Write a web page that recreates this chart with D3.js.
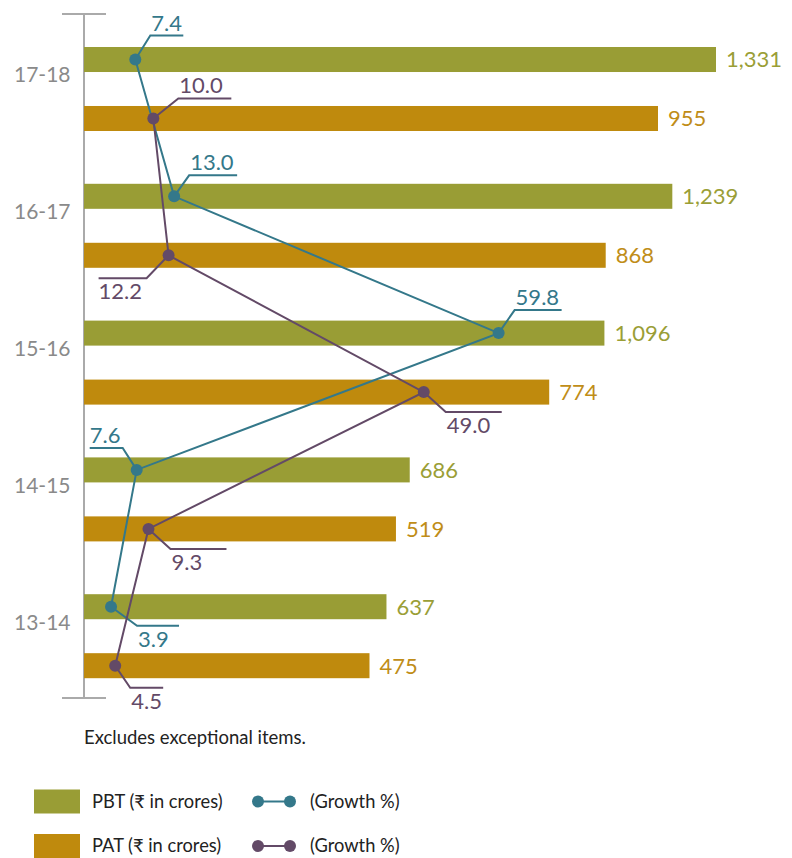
<!DOCTYPE html>
<html><head><meta charset="utf-8">
<script src="https://cdn.jsdelivr.net/npm/d3@7"></script>
<style>body{margin:0;background:#fff}svg{display:block;font-family:Lato,"Open Sans",sans-serif}</style>
</head><body><svg id="c" width="792" height="858"></svg>
<script>
const categories = ["17-18","16-17","15-16","14-15","13-14"];
const pbt = [1331, 1239, 1096, 686, 637];
const pat = [955, 868, 774, 519, 475];
const pbtGrowth = [7.4, 13.0, 59.8, 7.6, 3.9];
const patGrowth = [10.0, 12.2, 49.0, 9.3, 4.5];
const pbtLabels = ["1,331","1,239","1,096","686","637"];
const patLabels = ["955","868","774","519","475"];
const growthLabels = {pbt:["7.4","13.0","59.8","7.6","3.9"], pat:["10.0","12.2","49.0","9.3","4.5"]};

// callout layout: [elbow dx, elbow dy, horizontal length (signed), text above?]
const pbtCallout = [[15,-24,33,true],[15,-21,48,true],[16,-23,47,true],[-14,-22,-33,true],[26,19,42,false]];
const patCallout = [[25,-20,53,true],[-22,23,-48,false],[22,20,56,false],[22,20,56,false],[15,22,33,false]];

const C = {pbt:"#999d35", pat:"#bf8a0d", pbtTxt:"#9a9e36", patTxt:"#c08d18", teal:"#34788a", purple:"#634a67", axis:"#aaaaaa"};

const svg = d3.select("#c");
const x0 = 84;
const y = d3.scaleBand().domain(categories).range([14, 698]).padding(0);
const inner = d3.scaleBand().domain(["PBT","PAT"]).range([33, 117]).paddingInner(0.576).paddingOuter(0);
const xPBT = d3.scaleLinear().domain([0, 1331]).range([x0, 716]);
const xPAT = d3.scaleLinear().domain([0, 955]).range([x0, 658]);
const xG = d3.scaleLinear().domain([0, 60]).range([x0, 500]);

// axis
const axisG = svg.append("g");
axisG.append("line").attr("x1",x0).attr("x2",x0).attr("y1",14).attr("y2",698).attr("stroke",C.axis).attr("stroke-width",2);
[14,698].forEach(v=>axisG.append("line").attr("x1",62).attr("x2",106).attr("y1",v).attr("y2",v).attr("stroke",C.axis).attr("stroke-width",2));

// category labels
svg.append("g").selectAll("text").data(categories).join("text")
  .attr("x", 14).attr("y", d => y(d) + 61).attr("dy","0.35em")
  .attr("font-size", 21).attr("fill", "#8a8a8a").text(d => d);

// bars
const bh = inner.bandwidth();
svg.append("g").selectAll("rect").data(pbt).join("rect")
  .attr("x", x0).attr("y", (d,i) => y(categories[i]) + inner("PBT"))
  .attr("width", d => xPBT(d) - x0).attr("height", bh).attr("fill", C.pbt);
svg.append("g").selectAll("rect").data(pat).join("rect")
  .attr("x", x0).attr("y", (d,i) => y(categories[i]) + inner("PAT"))
  .attr("width", d => xPAT(d) - x0).attr("height", bh).attr("fill", C.pat);

// value labels
svg.append("g").selectAll("text").data(pbt).join("text")
  .attr("x", d => xPBT(d) + 10).attr("y", (d,i) => y(categories[i]) + inner("PBT") + bh/2).attr("dy","0.36em")
  .attr("font-size", 22).attr("fill", C.pbtTxt).text((d,i) => pbtLabels[i]);
svg.append("g").selectAll("text").data(pat).join("text")
  .attr("x", d => xPAT(d) + 10).attr("y", (d,i) => y(categories[i]) + inner("PAT") + bh/2).attr("dy","0.36em")
  .attr("font-size", 22).attr("fill", C.patTxt).text((d,i) => patLabels[i]);

// growth lines
function growth(vals, key, color, callout, labels){
  const pts = vals.map((g,i) => [xG(g), y(categories[i]) + inner(key) + bh/2]);
  const g = svg.append("g");
  g.append("path").attr("d", d3.line()(pts)).attr("fill","none").attr("stroke",color).attr("stroke-width",2);
  pts.forEach((p,i) => {
    const [dx,dy,len,above] = callout[i];
    const ex = p[0]+dx, ey = p[1]+dy;
    g.append("path").attr("d", d3.line()([p,[ex,ey],[ex+len,ey]])).attr("fill","none").attr("stroke",color).attr("stroke-width",2);
    const tx = len > 0 ? ex : ex + len;
    g.append("text").attr("x", tx + (len>0?1:0)).attr("y", above ? ey - 5 : ey + 21)
      .attr("font-size", 22).attr("fill", color).text(labels[i]);
  });
  g.selectAll("circle").data(pts).join("circle").attr("cx", d=>d[0]).attr("cy", d=>d[1]).attr("r",6).attr("fill",color);
}
growth(pbtGrowth, "PBT", C.teal, pbtCallout, growthLabels.pbt);
growth(patGrowth, "PAT", C.purple, patCallout, growthLabels.pat);

// footnote
svg.append("text").attr("x",84).attr("y",744).attr("font-size",18.5).attr("fill","#222").text("Excludes exceptional items.");

// legend
const leg = svg.append("g").attr("font-size",18.3).attr("fill","#222");
const legItems = [
  {color:C.pbt, line:C.teal, text:"PBT (₹ in crores)", y:801.5},
  {color:C.pat, line:C.purple, text:"PAT (₹ in crores)", y:846}
];
legItems.forEach(it => {
  leg.append("rect").attr("x",34).attr("y",it.y-12).attr("width",46).attr("height",24).attr("fill",it.color);
  leg.append("text").attr("x",92).attr("y",it.y).attr("dy","0.35em").text(it.text);
  leg.append("line").attr("x1",258).attr("x2",290).attr("y1",it.y).attr("y2",it.y).attr("stroke",it.line).attr("stroke-width",2);
  [258,290].forEach(cx => leg.append("circle").attr("cx",cx).attr("cy",it.y).attr("r",6).attr("fill",it.line));
  leg.append("text").attr("x",310).attr("y",it.y).attr("dy","0.35em").text("(Growth %)");
});
</script></body></html>
